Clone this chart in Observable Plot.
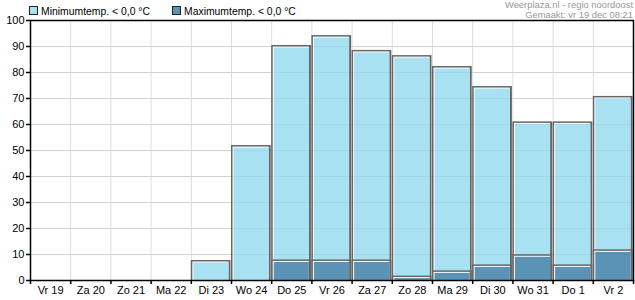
<!DOCTYPE html>
<html><head><meta charset="utf-8">
<script src="https://cdn.jsdelivr.net/npm/d3@7"></script>
<script src="https://cdn.jsdelivr.net/npm/@observablehq/plot@0.6"></script>
<style>
body{margin:0;background:#fff;font-family:"Liberation Sans",Arial,sans-serif;}
#wrap{position:relative;width:635px;height:300px;}
.leg{position:absolute;top:5px;font-size:10.4px;line-height:13px;color:#000;white-space:nowrap}
.sw{display:inline-block;width:7px;height:7px;border:1px solid #222;margin-right:3px;vertical-align:0px}
.hdr{position:absolute;right:2px;font-size:9.4px;line-height:10px;color:#999;text-align:right;white-space:nowrap}
</style></head><body>
<div id="wrap">
<div class="leg" style="left:29px"><span class="sw" style="background:#a8e1f2"></span>Minimumtemp. &lt; 0,0 °C</div>
<div class="leg" style="left:172px"><span class="sw" style="background:#5a93b5"></span>Maximumtemp. &lt; 0,0 °C</div>
<div class="hdr" style="top:0px">Weerplaza.nl - regio noordoost</div>
<div class="hdr" style="top:9.5px">Gemaakt: vr 19 dec 08:21</div>
</div>
<script>
const days = ["Vr 19","Za 20","Zo 21","Ma 22","Di 23","Wo 24","Do 25","Vr 26","Za 27","Zo 28","Ma 29","Di 30","Wo 31","Do 1","Vr 2"];
const minTemp = [0,0,0,0,7.7,51.9,90.4,94.2,88.5,86.5,82.3,74.6,61,61,70.8];
const maxTemp = [0,0,0,0,0,0,7.9,7.9,7.9,1.7,3.7,6,9.9,6,11.8];
const yTicks = [0,10,20,30,40,50,60,70,80,90,100];

const rows = days.map((d,i)=>({i, day:d, min:minTemp[i], max:maxTemp[i]}));
function bevel(key, fill){
  const data = rows.filter(d=>d[key]>0);
  const base = {x1:d=>d.i, x2:d=>d.i+1, y1:0, y2:d=>d[key]};
  return [
    Plot.rectY(data, {...base, fill:"#666", insetRight:0.5}),
    Plot.rectY(data, {...base, fill:"#fff", insetLeft:1.5, insetTop:1.5, insetRight:2.5}),
    Plot.rectY(data, {...base, fill, insetLeft:2.5, insetTop:2.5, insetRight:2.5})
  ];
}
const chart = Plot.plot({
  width:635, height:300,
  marginLeft:30, marginRight:2, marginTop:20, marginBottom:20,
  style:{fontFamily:'"Liberation Sans",Arial,sans-serif', fontSize:"11px", color:"#000", background:"transparent"},
  x:{domain:[0,15]},
  y:{domain:[0,100]},
  marks:[
    Plot.gridY({ticks:yTicks, stroke:"#ddd", strokeOpacity:1}),
    Plot.gridX({ticks:d3.range(0,16), stroke:"#ddd", strokeOpacity:1}),
    ...bevel("min","#a8e1f2"),
    ...bevel("max","#5a93b5"),
    Plot.gridY({ticks:yTicks.slice(1,-1), stroke:"#000", strokeOpacity:0.05}),
    Plot.frame({stroke:"#000", strokeWidth:1.5}),
    Plot.axisY({ticks:yTicks, tickSize:4, tickPadding:2, label:null, stroke:"#000", strokeWidth:1.5}),
    Plot.axisX({ticks:d3.range(0,16), tickSize:4, tickFormat:()=>"", label:null, stroke:"#000", strokeWidth:1.5}),
    Plot.axisX({ticks:days.map((d,i)=>i+0.5), tickSize:0, tickPadding:6, tickFormat:v=>days[Math.floor(v)], label:null})
  ]
});
chart.style.position="absolute"; chart.style.left="0"; chart.style.top="0";
document.getElementById("wrap").prepend(chart);
</script>
</body></html>
